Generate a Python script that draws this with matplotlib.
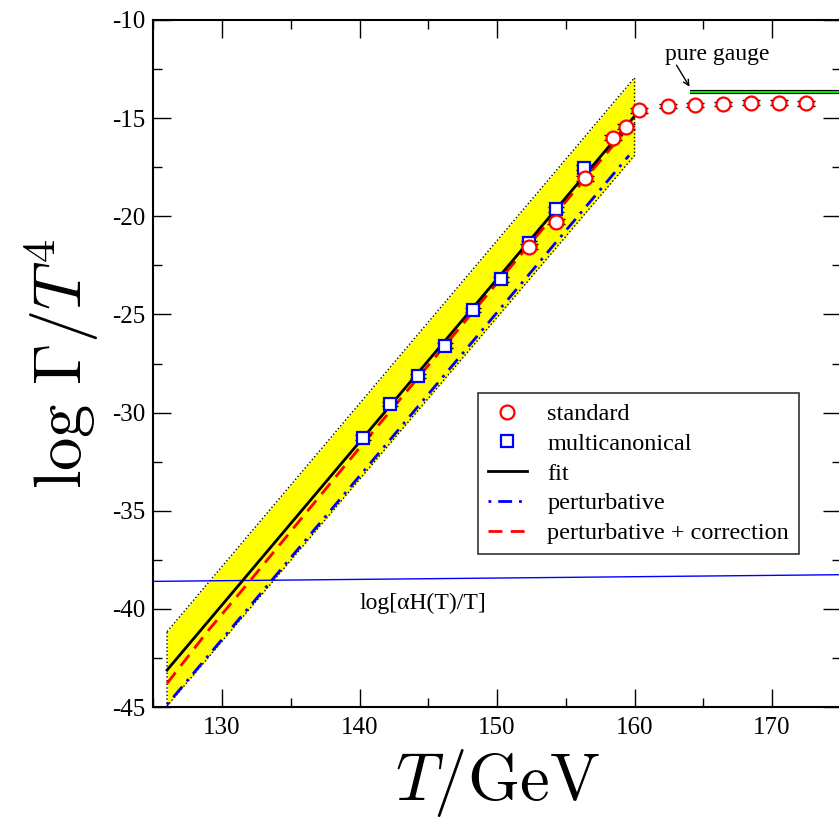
import matplotlib
matplotlib.use("Agg")
import matplotlib.pyplot as plt
import numpy as np
from matplotlib.lines import Line2D

plt.rcParams['font.family'] = ['Liberation Serif', 'DejaVu Serif']
plt.rcParams['mathtext.fontset'] = 'cm'
plt.rcParams['axes.unicode_minus'] = False

# DATA
# multicanonical runs (blue squares)
T_multi = [140.25, 142.25, 144.25, 146.25, 148.25, 150.3, 152.3, 154.3, 156.35]
rate_multi = [-31.28, -29.56, -28.13, -26.59, -24.77, -23.21, -21.38, -19.65, -17.52]
# standard runs (red circles)
T_std = [152.3, 154.3, 156.4, 158.4, 159.4, 160.35, 162.4, 164.4, 166.45, 168.5, 170.5, 172.5]
rate_std = [-21.55, -20.27, -18.07, -16.0, -15.43, -14.6, -14.38, -14.33, -14.28, -14.21, -14.21, -14.24]
err_bar = 0.12

# linear fit  log(Gamma/T^4) = slope*T + offset
fit_slope = 0.83
fit_offset = -147.7
fit_T = [126, 160]

# perturbative curves
pert_T = [126, 141, 159.6]
pert_rate = [-44.88, -32.4, -16.9]
corr_T = [126, 129, 132, 140, 150, 160]
corr_rate = [-43.8, -41.1, -38.6, -31.8, -23.4, -15.1]

# uncertainty band
band_T = [126, 160]
band_upper = [-41.16, -12.94]
band_lower = [-44.95, -16.9]

# Hubble rate line  log[alpha H(T)/T]
hubble_T = [125, 175]
hubble_rate = [-38.6, -38.26]

# pure gauge result
gauge_T = [164, 175]
gauge_rate = [-13.68, -13.68]


fig = plt.figure(figsize=(8.39, 8.26), dpi=100)
ax = fig.add_axes([153.3 / 839, 1 - 707 / 826, 687.5 / 839, 687 / 826])

# yellow band with dotted outline
ax.fill_between(band_T, band_lower, band_upper, color='#ffff00', zorder=1, linewidth=0)
poly_T = [band_T[0], band_T[1], band_T[1], band_T[0], band_T[0]]
poly_y = [band_upper[0], band_upper[1], band_lower[1], band_lower[0], band_upper[0]]
ax.plot(poly_T, poly_y, color='black', linestyle=':', linewidth=1.0, zorder=2)

ax.plot(hubble_T, hubble_rate, color='#0000ff', linewidth=1.0, zorder=3)

fit_line = np.polyval([fit_slope, fit_offset], fit_T)
ax.plot(corr_T, corr_rate, color='#ff0000', linestyle=(0, (5, 3)), linewidth=2.0, zorder=4)
ax.plot(pert_T, pert_rate, color='#0000ff', linestyle=(0, (1, 2.5, 5, 2.5)), linewidth=2.0, zorder=4)
ax.plot(fit_T, fit_line, color='black', linewidth=2.0, zorder=5)

# pure gauge line: green with black edges
ax.plot(gauge_T, gauge_rate, color='black', linewidth=3.0, solid_capstyle='butt', zorder=5)
ax.plot(gauge_T, gauge_rate, color='#00ff00', linewidth=1.3, solid_capstyle='butt', zorder=6)

# error bar caps then markers
ax.errorbar(T_multi, rate_multi, yerr=err_bar, fmt='none', ecolor='black',
            elinewidth=1.0, capsize=6, capthick=1.0, zorder=6)
ax.errorbar(T_std, rate_std, yerr=err_bar, fmt='none', ecolor='black',
            elinewidth=1.0, capsize=6.5, capthick=1.0, zorder=6)
ax.plot(T_multi, rate_multi, linestyle='none', marker='s', markersize=9,
        markerfacecolor='white', markeredgecolor='#0000ff', markeredgewidth=1.6, zorder=7)
ax.plot(T_std, rate_std, linestyle='none', marker='o', markersize=10,
        markerfacecolor='white', markeredgecolor='#ff0000', markeredgewidth=1.6, zorder=8)

# annotations
ax.text(140, -39.7, r'log[αH(T)/T]', fontsize=17, va='center', ha='left')
ax.text(166.0, -11.75, 'pure gauge', fontsize=17, ha='center', va='center')
ax.annotate('', xy=(164.0, -13.4), xytext=(163.05, -12.3),
            arrowprops=dict(arrowstyle='->', color='black', lw=1.0,
                            shrinkA=0, shrinkB=0))

# legend
handles = [
    Line2D([], [], linestyle='none', marker='o', markersize=10, markerfacecolor='white',
           markeredgecolor='#ff0000', markeredgewidth=1.6),
    Line2D([], [], linestyle='none', marker='s', markersize=9, markerfacecolor='white',
           markeredgecolor='#0000ff', markeredgewidth=1.6),
    Line2D([], [], color='black', linewidth=2.0),
    Line2D([], [], color='#0000ff', linestyle=(0, (1, 2.5, 5, 2.5)), linewidth=2.0),
    Line2D([], [], color='#ff0000', linestyle=(0, (5, 3)), linewidth=2.0),
]
labels = ['standard', 'multicanonical', 'fit', 'perturbative', 'perturbative + correction']
leg = ax.legend(handles, labels, loc='upper left', bbox_to_anchor=(0.4725, 0.4566),
                borderaxespad=0, fontsize=17.5, frameon=True, fancybox=False,
                handlelength=1.6, handletextpad=0.85, labelspacing=0.32, borderpad=0.4)
leg.get_frame().set_edgecolor('black')
leg.get_frame().set_linewidth(1.2)

# axes
ax.set_xlim(125, 175)
ax.set_ylim(-45, -10)
ax.set_xticks(np.arange(130, 175, 10))
ax.set_xticks(np.arange(125, 176, 5), minor=True)
ax.set_yticks(np.arange(-45, -9, 5))
ax.set_yticks(np.arange(-45, -9, 2.5), minor=True)
ax.tick_params(which='both', direction='in', top=True, right=True, labelsize=18, width=1.0)
ax.tick_params(which='major', length=13)
ax.tick_params(which='minor', length=6.5)
ax.tick_params(axis='x', pad=7)
ax.tick_params(axis='y', pad=6)
for sp in ax.spines.values():
    sp.set_linewidth(1.5)

ax.set_xlabel(r'$T/\mathrm{GeV}$', fontsize=48, labelpad=6)
ax.set_ylabel(r'$\log\,\Gamma/T^4$', fontsize=48, labelpad=8)

fig.savefig('out.png', dpi=100)
